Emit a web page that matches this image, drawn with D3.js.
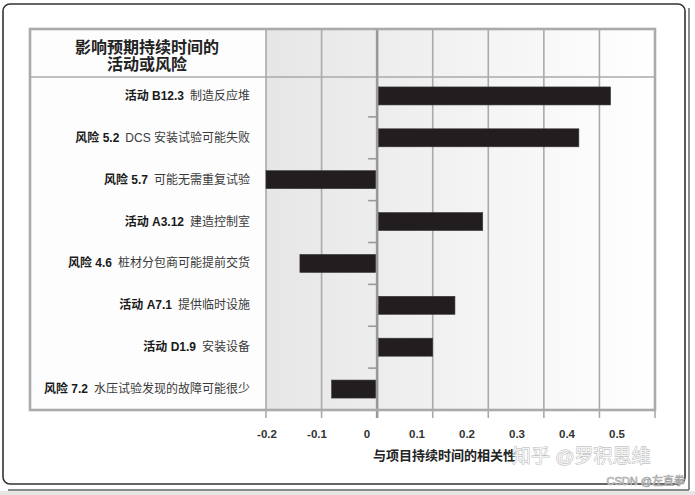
<!DOCTYPE html>
<html>
<head>
<meta charset="utf-8">
<script src="https://cdn.jsdelivr.net/npm/d3@7/dist/d3.min.js"></script>
<style>
  html, body { margin: 0; padding: 0; background: #ffffff; }
  svg { display: block; }
  text { font-family: "Liberation Sans", "Noto Sans CJK SC", sans-serif; }
</style>
</head>
<body>
<svg id="chart" width="695" height="495"></svg>
<script>
// ---- data ----
const categoryPrefixes = ["活动 B12.3", "风险 5.2", "风险 5.7", "活动 A3.12", "风险 4.6", "活动 A7.1", "活动 D1.9", "风险 7.2"];
const categoryNames = ["制造反应堆", "DCS 安装试验可能失败", "可能无需重复试验", "建造控制室", "桩材分包商可能提前交货", "提供临时设施", "安装设备", "水压试验发现的故障可能很少"];
const correlations = [0.42, 0.363, -0.2, 0.19, -0.139, 0.14, 0.10, -0.082];
const tickValues = [-0.2, -0.1, 0, 0.1, 0.2, 0.3, 0.4, 0.5];
const tickLabels = ["-0.2", "-0.1", "0", "0.1", "0.2", "0.3", "0.4", "0.5"];
const headerLines = ["影响预期持续时间的", "活动或风险"];
const axisTitle = "与项目持续时间的相关性";
const watermark1 = "知乎 @罗积思维";
const watermark2 = "CSDN @左直拳";

// ---- layout ----
const svg = d3.select("#chart");
const box = { left: 30, right: 655, top: 29, bottom: 410, header: 77, labelCol: 266 };

const x = d3.scaleLinear().domain([-0.2, 0.5]).range([266, 655]);
// the printed tick labels sit on a slightly different spacing in the reference
const xLabel = d3.scaleLinear().domain([-0.2, 0.5]).range([267, 617]);
const y = d3.scaleBand().domain(categoryPrefixes).range([75, 410]).paddingInner(0.57).paddingOuter(0.285);

// outer frame with shadow lines
svg.append("line").attr("x1", 689).attr("x2", 689).attr("y1", 8).attr("y2", 490)
  .attr("stroke", "#666").attr("stroke-width", 1.5);
svg.append("line").attr("x1", 8).attr("x2", 689).attr("y1", 490).attr("y2", 490)
  .attr("stroke", "#666").attr("stroke-width", 1.5);
svg.append("rect").attr("x", 0).attr("y", 491).attr("width", 695).attr("height", 4).attr("fill", "#e6e6e6");
svg.append("rect").attr("x", 3).attr("y", 4).attr("width", 682).attr("height", 480)
  .attr("rx", 7).attr("fill", "#ffffff").attr("stroke", "#333").attr("stroke-width", 1.6);

// gradient for the plot region
const defs = svg.append("defs");
const grad = defs.append("linearGradient").attr("id", "bg").attr("x1", "0%").attr("x2", "100%");
grad.append("stop").attr("offset", "0%").attr("stop-color", "#e6e6e6");
grad.append("stop").attr("offset", "100%").attr("stop-color", "#ffffff");

svg.append("rect").attr("x", box.left).attr("y", box.top)
  .attr("width", box.labelCol - box.left).attr("height", box.bottom - box.top).attr("fill", "#fdfdfd");
svg.append("rect").attr("x", x(-0.2)).attr("y", box.top)
  .attr("width", x(0.5) - x(-0.2)).attr("height", box.bottom - box.top).attr("fill", "url(#bg)");

// vertical gridlines
svg.append("g").selectAll("line").data(tickValues.filter(v => v !== 0)).join("line")
  .attr("x1", d => x(d)).attr("x2", d => x(d))
  .attr("y1", box.top).attr("y2", box.bottom + 8)
  .attr("stroke", "#aaaaaa").attr("stroke-width", 1.6);

// header divider
svg.append("line").attr("x1", box.left).attr("x2", box.right).attr("y1", box.header).attr("y2", box.header)
  .attr("stroke", "#aaaaaa").attr("stroke-width", 1.6);

// zero line
svg.append("line").attr("x1", x(0)).attr("x2", x(0)).attr("y1", box.top).attr("y2", box.bottom + 8)
  .attr("stroke", "#999999").attr("stroke-width", 2.6);

// category tick marks between rows (left of zero line)
const step = y.step();
const boundaries = d3.range(1, categoryPrefixes.length).map(i => y.range()[0] + i * step);
svg.append("g").selectAll("line").data(boundaries).join("line")
  .attr("x1", x(0) - 9).attr("x2", x(0))
  .attr("y1", d => d).attr("y2", d => d)
  .attr("stroke", "#999999").attr("stroke-width", 1.6);

// box border
svg.append("rect").attr("x", box.left).attr("y", box.top)
  .attr("width", box.right - box.left).attr("height", box.bottom - box.top)
  .attr("fill", "none").attr("stroke", "#aaaaaa").attr("stroke-width", 2.6);

// bars
svg.append("g").selectAll("rect").data(correlations).join("rect")
  .attr("x", d => Math.min(x(0), x(d)) + (d >= 0 ? 1.5 : 0))
  .attr("y", (d, i) => y(categoryPrefixes[i]))
  .attr("width", d => Math.abs(x(d) - x(0)) - 1.5)
  .attr("height", y.bandwidth())
  .attr("fill", "#221e1f")
  .attr("stroke", "#3a3637").attr("stroke-width", 0.6);

// header text
svg.append("g").selectAll("text").data(headerLines).join("text")
  .attr("x", 147).attr("y", (d, i) => 47 + i * 17)
  .attr("text-anchor", "middle").attr("dominant-baseline", "central")
  .attr("font-size", 16).attr("font-weight", "bold").attr("fill", "#222")
  .text(d => d);

// row labels
const labels = svg.append("g").selectAll("text").data(categoryPrefixes).join("text")
  .attr("x", 250).attr("y", d => y(d) + y.bandwidth() / 2)
  .attr("text-anchor", "end").attr("dominant-baseline", "central")
  .attr("font-size", 12);
labels.append("tspan").attr("font-weight", "bold").attr("fill", "#1a1a1a").text(d => d);
labels.append("tspan").attr("dx", 6).attr("fill", "#3a3a3a").text((d, i) => categoryNames[i]);

// x tick labels
svg.append("g").selectAll("text").data(tickValues).join("text")
  .attr("x", d => xLabel(d)).attr("y", 434)
  .attr("text-anchor", "middle").attr("dominant-baseline", "central")
  .attr("font-size", 11.5).attr("font-weight", "bold").attr("fill", "#333")
  .text((d, i) => tickLabels[i]);

// axis title
svg.append("text").attr("x", 373).attr("y", 455)
  .attr("dominant-baseline", "central")
  .attr("font-size", 13).attr("font-weight", "bold").attr("fill", "#222")
  .text(axisTitle);

// watermarks
svg.append("text").attr("x", 512).attr("y", 456)
  .attr("dominant-baseline", "central")
  .attr("font-size", 19).attr("fill", "#f4f4f4")
  .attr("stroke", "#b0b0b0").attr("stroke-width", 0.8)
  .style("paint-order", "stroke")
  .text(watermark1);
svg.append("text").attr("x", 685).attr("y", 481)
  .attr("text-anchor", "end").attr("dominant-baseline", "central")
  .attr("font-size", 11).attr("fill", "#f0f0f0")
  .attr("stroke", "#a8a8a8").attr("stroke-width", 0.7)
  .text(watermark2);
</script>
</body>
</html>
